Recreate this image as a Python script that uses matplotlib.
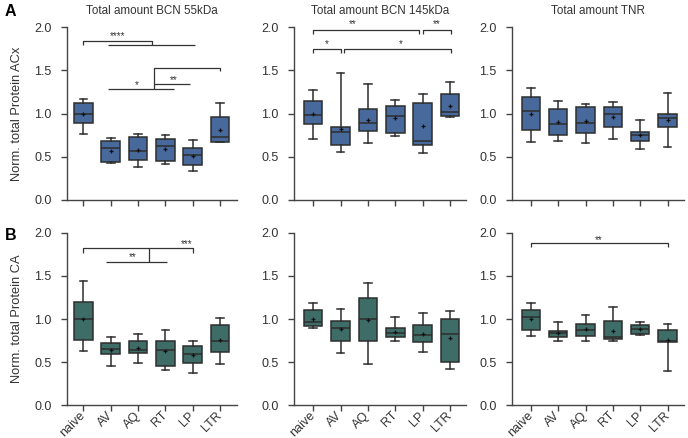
import matplotlib
matplotlib.use("Agg")
import matplotlib.pyplot as plt

plt.rcParams['font.family'] = ['Liberation Sans', 'DejaVu Sans']

categories = ["naive", "AV", "AQ", "RT", "LP", "LTR"]
y_ticks = [0.0, 0.5, 1.0, 1.5, 2.0]
titles = ["Total amount BCN 55kDa", "Total amount BCN 145kDa", "Total amount TNR"]
ylabels = ["Norm. total Protein ACx", "Norm. total Protein CA"]

# ---- Row A (ACx) ----
bcn55_acx_lo = [0.76, 0.43, 0.38, 0.415, 0.33, 0.67]
bcn55_acx_q1 = [0.89, 0.44, 0.46, 0.45, 0.41, 0.675]
bcn55_acx_med = [0.99, 0.60, 0.57, 0.62, 0.515, 0.725]
bcn55_acx_q3 = [1.125, 0.68, 0.725, 0.705, 0.605, 0.955]
bcn55_acx_hi = [1.17, 0.72, 0.76, 0.75, 0.69, 1.12]
bcn55_acx_mean = [1.00, 0.57, 0.58, 0.59, 0.51, 0.81]

bcn145_acx_lo = [0.70, 0.56, 0.66, 0.74, 0.545, 0.96]
bcn145_acx_q1 = [0.88, 0.64, 0.80, 0.775, 0.64, 0.97]
bcn145_acx_med = [0.98, 0.79, 0.89, 0.97, 0.685, 1.02]
bcn145_acx_q3 = [1.15, 0.84, 1.05, 1.09, 1.12, 1.22]
bcn145_acx_hi = [1.27, 1.47, 1.34, 1.16, 1.23, 1.36]
bcn145_acx_mean = [1.00, 0.82, 0.93, 0.95, 0.85, 1.09]

tnr_acx_lo = [0.67, 0.685, 0.66, 0.71, 0.59, 0.615]
tnr_acx_q1 = [0.81, 0.75, 0.77, 0.84, 0.68, 0.84]
tnr_acx_med = [1.025, 0.88, 0.89, 0.99, 0.75, 0.945]
tnr_acx_q3 = [1.19, 1.05, 1.08, 1.08, 0.785, 1.00]
tnr_acx_hi = [1.29, 1.15, 1.11, 1.135, 0.92, 1.24]
tnr_acx_mean = [1.00, 0.90, 0.91, 0.96, 0.75, 0.93]

# ---- Row B (CA) ----
bcn55_ca_lo = [0.63, 0.45, 0.49, 0.41, 0.37, 0.48]
bcn55_ca_q1 = [0.76, 0.595, 0.61, 0.46, 0.49, 0.62]
bcn55_ca_med = [1.00, 0.65, 0.645, 0.64, 0.595, 0.74]
bcn55_ca_q3 = [1.20, 0.72, 0.74, 0.75, 0.69, 0.93]
bcn55_ca_hi = [1.44, 0.79, 0.83, 0.875, 0.75, 1.01]
bcn55_ca_mean = [1.00, 0.64, 0.66, 0.63, 0.58, 0.76]

bcn145_ca_lo = [0.90, 0.605, 0.48, 0.745, 0.62, 0.425]
bcn145_ca_q1 = [0.92, 0.745, 0.75, 0.795, 0.735, 0.505]
bcn145_ca_med = [0.96, 0.90, 0.995, 0.84, 0.815, 0.825]
bcn145_ca_q3 = [1.10, 0.98, 1.24, 0.895, 0.93, 1.00]
bcn145_ca_hi = [1.19, 1.12, 1.42, 1.02, 1.07, 1.09]
bcn145_ca_mean = [1.00, 0.88, 0.985, 0.85, 0.83, 0.78]

tnr_ca_lo = [0.80, 0.74, 0.745, 0.74, 0.815, 0.40]
tnr_ca_q1 = [0.87, 0.79, 0.805, 0.765, 0.83, 0.73]
tnr_ca_med = [1.025, 0.835, 0.87, 0.79, 0.88, 0.75]
tnr_ca_q3 = [1.10, 0.865, 0.945, 0.98, 0.935, 0.87]
tnr_ca_hi = [1.19, 0.97, 1.05, 1.135, 0.96, 0.945]
tnr_ca_mean = [1.00, 0.835, 0.88, 0.865, 0.88, 0.76]

panels = [
    [(bcn55_acx_lo, bcn55_acx_q1, bcn55_acx_med, bcn55_acx_q3, bcn55_acx_hi, bcn55_acx_mean),
     (bcn145_acx_lo, bcn145_acx_q1, bcn145_acx_med, bcn145_acx_q3, bcn145_acx_hi, bcn145_acx_mean),
     (tnr_acx_lo, tnr_acx_q1, tnr_acx_med, tnr_acx_q3, tnr_acx_hi, tnr_acx_mean)],
    [(bcn55_ca_lo, bcn55_ca_q1, bcn55_ca_med, bcn55_ca_q3, bcn55_ca_hi, bcn55_ca_mean),
     (bcn145_ca_lo, bcn145_ca_q1, bcn145_ca_med, bcn145_ca_q3, bcn145_ca_hi, bcn145_ca_mean),
     (tnr_ca_lo, tnr_ca_q1, tnr_ca_med, tnr_ca_q3, tnr_ca_hi, tnr_ca_mean)],
]

# significance annotations: polylines (xs, ys) in category/data units, and labels (x, y, text)
sig_lines = {
    (0, 0): [([0, 0, 2.5, 2.5], [1.79, 1.84, 1.84, 1.79]),
             ([0.9, 4.1], [1.79, 1.79]),
             ([0.9, 3.3], [1.28, 1.28]),
             ([2.6, 2.6, 5.0, 5.0], [1.28, 1.53, 1.53, 1.49]),
             ([2.6, 3.9], [1.34, 1.34])],
    (0, 1): [([0, 0, 3.87, 3.87], [1.92, 1.97, 1.97, 1.92]),
             ([4.02, 4.02, 5.02, 5.02], [1.92, 1.97, 1.97, 1.92]),
             ([0, 0, 1.0, 1.0], [1.70, 1.745, 1.745, 1.70]),
             ([1.13, 1.13, 5.02, 5.02], [1.70, 1.745, 1.745, 1.70])],
    (1, 0): [([0, 0, 4.0, 4.0], [1.77, 1.82, 1.82, 1.77]),
             ([2.39, 2.39], [1.82, 1.66]),
             ([0.83, 3.05], [1.66, 1.66])],
    (1, 2): [([0, 0, 5.0, 5.0], [1.84, 1.88, 1.88, 1.84])],
}
sig_texts = {
    (0, 0): [(1.25, 1.86, "****"), (1.95, 1.29, "*"), (3.3, 1.35, "**")],
    (0, 1): [(1.44, 2.0, "**"), (4.5, 2.0, "**"), (0.5, 1.765, "*"), (3.2, 1.765, "*")],
    (1, 0): [(1.8, 1.68, "**"), (3.76, 1.83, "***")],
    (1, 2): [(2.47, 1.885, "**")],
}

W, H = 688, 438
fig = plt.figure(figsize=(W / 100, H / 100), dpi=100)

col_px = [(66.7, 236.5, -0.61), (294.0, 466.5, -0.70), (511.7, 683.9, -0.70)]
row_px = [(27.0, 200.0), (232.7, 405.3)]  # (top pixel of 2.0, bottom pixel of 0.0)
colors = ["#48699b", "#3e6d68"]
edge = "#2d2d2d"
txtc = "#333333"

for r in range(2):
    for c in range(3):
        l, rr, xmin = col_px[c]
        top, bot = row_px[r]
        ax = fig.add_axes([l / W, 1 - bot / H, (rr - l) / W, (bot - top) / H])
        lo, q1, med, q3, hi, mean = panels[r][c]
        stats = [dict(whislo=lo[i], q1=q1[i], med=med[i], q3=q3[i], whishi=hi[i],
                      mean=mean[i], fliers=[]) for i in range(len(categories))]
        ax.bxp(stats, positions=range(len(categories)), widths=0.68, capwidths=0.28,
               patch_artist=True, showmeans=True, showfliers=False,
               boxprops=dict(facecolor=colors[r], edgecolor=edge, linewidth=1.1),
               medianprops=dict(color=edge, linewidth=1.1),
               whiskerprops=dict(color=edge, linewidth=1.1),
               capprops=dict(color=edge, linewidth=1.1),
               meanprops=dict(marker='+', markersize=3.5, markeredgecolor='#111111',
                              markeredgewidth=0.9))
        ax.set_xlim(xmin, 5.6)
        ax.set_ylim(0, 2.0)
        ax.set_yticks(y_ticks)
        ax.set_yticklabels([f"{v:.1f}" for v in y_ticks])
        for s in ["top", "right"]:
            ax.spines[s].set_visible(False)
        for s in ["left", "bottom"]:
            ax.spines[s].set_color("#444444")
            ax.spines[s].set_linewidth(1.0)
        ax.tick_params(axis='both', direction='out', length=4, width=1.0,
                       color="#444444", labelsize=9, labelcolor=txtc)
        ax.tick_params(axis='y', pad=7)
        ax.tick_params(axis='x', pad=2)
        ax.set_xticks(range(len(categories)))
        if r == 1:
            ax.set_xticklabels(categories, rotation=45, ha='right', va='center',
                               rotation_mode='anchor', fontsize=9, color=txtc)
        else:
            ax.set_xticklabels([])
        if r == 0:
            ax.set_title(titles[c], fontsize=8.4, color=txtc, pad=9)
        if c == 0:
            ax.set_ylabel(ylabels[r], fontsize=9.3, color=txtc, labelpad=8)
        for xs, ys in sig_lines.get((r, c), []):
            ax.plot(xs, ys, color="#333333", linewidth=0.9, clip_on=False,
                    solid_capstyle='butt')
        for x, y, t in sig_texts.get((r, c), []):
            ax.text(x, y, t, ha='center', va='baseline', fontsize=7, color=txtc)

fig.text(5 / W, 1 - 12 / H, "A", fontsize=11.5, fontweight='bold', va='center', ha='left')
fig.text(5 / W, 1 - 236 / H, "B", fontsize=11.5, fontweight='bold', va='center', ha='left')

fig.savefig("out.png", dpi=100)
